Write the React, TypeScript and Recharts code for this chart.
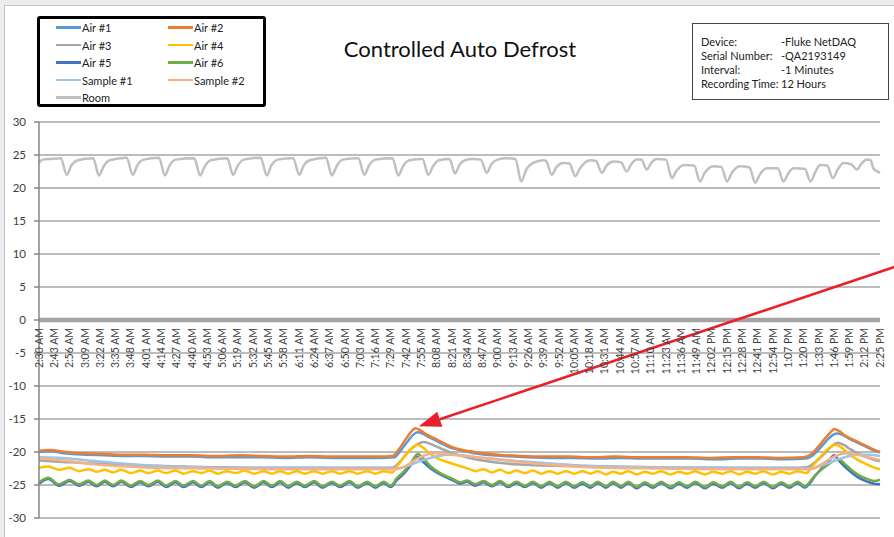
import React from 'react';
import { LineChart, Line, XAxis, YAxis, CartesianGrid, ReferenceLine } from 'recharts';

// category labels, one every 13 minutes from 2:30 AM
const tickLabels = [
  '2:30 AM', '2:43 AM', '2:56 AM', '3:09 AM', '3:22 AM', '3:35 AM', '3:48 AM', '4:01 AM',
  '4:14 AM', '4:27 AM', '4:40 AM', '4:53 AM', '5:06 AM', '5:19 AM', '5:32 AM', '5:45 AM',
  '5:58 AM', '6:11 AM', '6:24 AM', '6:37 AM', '6:50 AM', '7:03 AM', '7:16 AM', '7:29 AM',
  '7:42 AM', '7:55 AM', '8:08 AM', '8:21 AM', '8:34 AM', '8:47 AM', '9:00 AM', '9:13 AM',
  '9:26 AM', '9:39 AM', '9:52 AM', '10:05 AM', '10:18 AM', '10:31 AM', '10:44 AM', '10:57 AM',
  '11:10 AM', '11:23 AM', '11:36 AM', '11:49 AM', '12:02 PM', '12:15 PM', '12:28 PM', '12:41 PM',
  '12:54 PM', '1:07 PM', '1:20 PM', '1:33 PM', '1:46 PM', '1:59 PM', '2:12 PM', '2:25 PM',
];
const STEP = 13;
const xTicks = tickLabels.map((_, i) => i * STEP);
const LAST = xTicks[xTicks.length - 1];
const yTicks = [-30, -25, -20, -15, -10, -5, 0, 5, 10, 15, 20, 25, 30];

// [minutes after 2:30 AM, temperature]
const air1: [number, number][] = [
  [0, -20.0], [10, -19.9], [18, -20.1], [28, -20.3], [40, -20.4], [55, -20.5], [70, -20.6], [90, -20.6],
  [110, -20.7], [130, -20.7], [150, -20.8], [170, -20.8], [190, -20.8], [210, -20.9], [230, -20.8], [250, -20.9],
  [270, -20.9], [290, -20.9], [302, -20.8], [307, -19.9], [313, -18.5], [318, -17.4], [322, -17.0], [326, -17.2],
  [332, -17.8], [340, -18.5], [348, -19.2], [355, -19.6], [362, -19.9], [370, -20.2], [380, -20.4], [395, -20.6],
  [415, -20.8], [435, -20.9], [455, -20.9], [475, -21.0], [495, -20.9], [515, -21.0], [535, -21.0], [555, -21.0],
  [575, -21.1], [595, -21.0], [615, -21.0], [635, -21.1], [652, -21.0], [657, -20.6], [664, -19.4], [670, -18.2],
  [675, -17.4], [679, -17.2], [683, -17.4], [689, -18.0], [696, -18.6], [703, -19.2], [709, -19.7], [715, -20.1],
];
const air2: [number, number][] = [
  [0, -19.8], [10, -19.7], [18, -19.9], [28, -20.1], [40, -20.2], [55, -20.3], [70, -20.4], [90, -20.4],
  [110, -20.5], [130, -20.5], [150, -20.6], [170, -20.5], [190, -20.6], [210, -20.7], [230, -20.6], [250, -20.7],
  [270, -20.7], [290, -20.7], [301, -20.6], [306, -19.6], [312, -18.0], [317, -16.8], [320, -16.4], [324, -16.7],
  [330, -17.4], [338, -18.1], [346, -18.8], [352, -19.3], [360, -19.7], [367, -19.9], [378, -20.2], [390, -20.4],
  [410, -20.6], [430, -20.7], [450, -20.7], [470, -20.8], [490, -20.7], [510, -20.8], [530, -20.8], [550, -20.8],
  [570, -20.9], [590, -20.8], [610, -20.8], [630, -20.9], [650, -20.8], [655, -20.5], [662, -19.3], [668, -18.0],
  [673, -17.0], [676, -16.5], [680, -16.8], [686, -17.6], [693, -18.2], [700, -18.8], [707, -19.4], [712, -19.8],
  [715, -20.0],
];
const air3: [number, number][] = [
  [0, -21.3], [20, -21.5], [40, -21.7], [60, -21.8], [80, -22.0], [100, -22.1], [120, -22.2], [150, -22.3],
  [200, -22.4], [250, -22.4], [300, -22.4], [304, -22.0], [310, -20.8], [316, -19.6], [322, -18.8], [327, -18.5],
  [333, -18.8], [341, -19.4], [352, -20.2], [366, -20.9], [381, -21.4], [395, -21.7], [409, -21.9], [440, -22.1],
  [483, -22.2], [520, -22.3], [560, -22.4], [600, -22.4], [640, -22.4], [653, -22.3], [660, -21.5], [667, -20.4],
  [673, -19.3], [679, -18.6], [684, -18.9], [690, -19.6], [696, -20.2], [704, -20.8], [710, -21.2], [715, -21.4],
];
const air4: [number, number][] = [
  [0, -22.4], [8, -22.2], [17, -22.7], [26, -22.4], [34, -22.9], [42, -22.6], [49, -23.0], [56, -22.7],
  [63, -23.1], [70, -22.7], [78, -23.2], [86, -22.8], [93, -23.2], [101, -22.8], [108, -23.2], [116, -22.8],
  [123, -23.3], [131, -22.9], [138, -23.2], [145, -22.8], [152, -23.3], [160, -22.9], [167, -23.2], [175, -22.8],
  [183, -23.3], [191, -22.9], [198, -23.3], [205, -22.9], [212, -23.3], [219, -22.9], [226, -23.3], [234, -22.9],
  [241, -23.3], [249, -22.9], [256, -23.3], [264, -22.9], [271, -23.3], [279, -22.9], [286, -23.3], [293, -22.9],
  [300, -23.1], [305, -22.0], [311, -20.6], [317, -19.4], [322, -18.9], [327, -19.4], [332, -20.2], [338, -20.9],
  [345, -21.4], [352, -21.8], [359, -22.2], [366, -22.6], [371, -22.9], [378, -22.6], [385, -23.1], [392, -22.7],
  [399, -23.2], [406, -22.8], [413, -23.2], [420, -22.8], [427, -23.3], [434, -22.9], [441, -23.3], [448, -22.9],
  [455, -23.3], [462, -22.9], [469, -23.3], [475, -22.9], [482, -23.4], [488, -23.0], [495, -23.3], [501, -22.9],
  [508, -23.4], [515, -23.0], [522, -23.3], [529, -22.9], [537, -23.4], [544, -23.0], [551, -23.3], [558, -22.9],
  [566, -23.4], [573, -23.0], [581, -23.3], [588, -22.9], [595, -23.4], [602, -23.0], [609, -23.3], [616, -22.9],
  [624, -23.4], [631, -23.0], [638, -23.3], [645, -22.9], [652, -23.2], [657, -22.3], [663, -21.0], [669, -19.8],
  [674, -19.1], [678, -18.9], [682, -19.3], [688, -20.2], [696, -21.2], [703, -21.8], [709, -22.3], [715, -22.6],
];
const air5: [number, number][] = [
  [0, -24.8], [8, -24.1], [17, -25.1], [26, -24.4], [34, -25.1], [42, -24.5], [49, -25.2], [56, -24.5],
  [63, -25.2], [70, -24.5], [78, -25.3], [86, -24.6], [93, -25.2], [101, -24.5], [108, -25.3], [116, -24.6],
  [123, -25.3], [131, -24.6], [138, -25.3], [145, -24.6], [152, -25.4], [160, -24.7], [167, -25.3], [175, -24.6],
  [183, -25.4], [191, -24.6], [198, -25.3], [205, -24.6], [212, -25.4], [219, -24.7], [226, -25.3], [234, -24.6],
  [241, -25.4], [249, -24.7], [256, -25.3], [264, -24.6], [271, -25.4], [279, -24.7], [286, -25.4], [293, -24.7],
  [299, -25.3], [304, -24.3], [310, -23.3], [316, -22.0], [321, -20.7], [326, -21.4], [333, -22.5], [341, -23.4],
  [352, -24.3], [358, -24.8], [364, -24.5], [371, -25.1], [378, -24.6], [385, -25.2], [392, -24.6], [399, -25.3],
  [406, -24.7], [413, -25.3], [420, -24.7], [427, -25.4], [434, -24.7], [441, -25.4], [448, -24.7], [455, -25.4],
  [462, -24.8], [469, -25.4], [475, -24.7], [482, -25.4], [488, -24.7], [495, -25.4], [501, -24.7], [508, -25.5],
  [515, -24.8], [522, -25.4], [529, -24.7], [537, -25.5], [544, -24.8], [551, -25.4], [558, -24.7], [566, -25.5],
  [573, -24.8], [581, -25.4], [588, -24.7], [595, -25.5], [602, -24.8], [609, -25.4], [616, -24.7], [624, -25.5],
  [631, -24.8], [638, -25.4], [645, -24.7], [651, -25.4], [655, -24.8], [660, -23.6], [666, -22.4], [672, -21.2],
  [676, -20.5], [680, -21.3], [685, -22.2], [690, -23.0], [696, -23.8], [703, -24.4], [710, -24.8], [715, -24.9],
];
const air6: [number, number][] = [
  [0, -24.6], [8, -23.9], [17, -24.9], [26, -24.2], [34, -24.9], [42, -24.3], [49, -25.0], [56, -24.3],
  [63, -25.0], [70, -24.3], [78, -25.1], [86, -24.4], [93, -25.0], [101, -24.3], [108, -25.1], [116, -24.4],
  [123, -25.1], [131, -24.4], [138, -25.1], [145, -24.4], [152, -25.2], [160, -24.5], [167, -25.1], [175, -24.4],
  [183, -25.2], [191, -24.4], [198, -25.1], [205, -24.4], [212, -25.2], [219, -24.5], [226, -25.1], [234, -24.4],
  [241, -25.2], [249, -24.5], [256, -25.1], [264, -24.4], [271, -25.2], [279, -24.5], [286, -25.2], [293, -24.5],
  [299, -25.1], [304, -24.0], [310, -23.0], [316, -21.7], [322, -20.3], [327, -21.0], [333, -22.2], [341, -23.2],
  [352, -24.1], [358, -24.6], [364, -24.3], [371, -24.9], [378, -24.4], [385, -25.0], [392, -24.4], [399, -25.1],
  [406, -24.5], [413, -25.1], [420, -24.5], [427, -25.2], [434, -24.5], [441, -25.2], [448, -24.5], [455, -25.2],
  [462, -24.6], [469, -25.2], [475, -24.5], [482, -25.2], [488, -24.5], [495, -25.2], [501, -24.5], [508, -25.3],
  [515, -24.6], [522, -25.2], [529, -24.5], [537, -25.3], [544, -24.6], [551, -25.2], [558, -24.5], [566, -25.3],
  [573, -24.6], [581, -25.2], [588, -24.5], [595, -25.3], [602, -24.6], [609, -25.2], [616, -24.5], [624, -25.3],
  [631, -24.6], [638, -25.2], [645, -24.5], [651, -25.2], [655, -24.6], [660, -23.5], [665, -22.7], [671, -21.9],
  [676, -21.3], [680, -21.1], [685, -21.8], [690, -22.6], [696, -23.4], [703, -24.0], [710, -24.4], [715, -24.2],
];
const sample1: [number, number][] = [
  [0, -20.8], [20, -20.9], [49, -21.4], [75, -21.8], [97, -22.1], [130, -22.3], [180, -22.4], [236, -22.4],
  [280, -22.5], [303, -22.5], [315, -22.0], [325, -21.3], [335, -20.8], [347, -20.4], [360, -20.5], [381, -21.0],
  [409, -21.4], [440, -21.8], [483, -22.2], [530, -22.3], [580, -22.4], [630, -22.5], [655, -22.5], [665, -22.1],
  [675, -21.4], [685, -20.8], [695, -20.4], [705, -20.4], [715, -20.6],
];
const sample2: [number, number][] = [
  [0, -21.0], [20, -21.3], [49, -21.9], [75, -22.2], [97, -22.4], [140, -22.5], [200, -22.6], [260, -22.6],
  [303, -22.6], [312, -22.1], [320, -21.2], [328, -20.5], [336, -20.2], [346, -20.3], [366, -20.7], [390, -21.1],
  [409, -21.5], [440, -22.0], [483, -22.4], [530, -22.5], [580, -22.6], [630, -22.6], [656, -22.6], [664, -22.0],
  [672, -21.1], [679, -20.5], [686, -20.2], [695, -20.4], [705, -20.8], [715, -21.2],
];
const room: [number, number][] = [
  [0, 23.8], [3, 24.3], [10, 24.4], [18.5, 24.5], [23.6, 22.0], [27.5, 23.4], [33, 24.2], [46, 24.5],
  [51, 21.9], [55, 23.3], [60, 24.2], [74.5, 24.6], [79.7, 22.0], [83.5, 23.4], [89, 24.3], [102, 24.6],
  [107, 21.9], [111, 23.4], [116, 24.3], [132, 24.5], [137, 21.9], [141, 23.3], [146, 24.2], [160, 24.5],
  [165, 22.0], [169, 23.4], [174, 24.3], [188.5, 24.6], [193.6, 21.9], [197.5, 23.4], [203, 24.3], [216, 24.5],
  [221.3, 22.0], [225, 23.4], [230, 24.2], [244, 24.6], [249, 21.9], [253, 23.3], [258, 24.3], [271.5, 24.5],
  [276.6, 22.0], [280.5, 23.4], [286, 24.3], [300.5, 24.5], [305.5, 21.9], [309.5, 23.3], [315, 24.2], [326, 24.4],
  [331, 22.0], [335, 23.3], [340, 24.2], [349, 24.4], [353.7, 22.2], [357.5, 23.5], [362, 24.2], [368.5, 24.4],
  [375.5, 24.3], [380.7, 22.3], [384.5, 23.6], [390, 24.3], [397.7, 24.5], [405, 24.4], [410, 21.0], [414, 22.7],
  [420, 23.8], [428.6, 24.2], [431, 24.1], [436, 22.0], [440, 23.2], [445.6, 23.8], [451, 23.7], [456, 21.8],
  [460, 23.0], [468.5, 24.2], [473.5, 24.1], [478.5, 22.3], [482.5, 23.4], [488.4, 24.0], [494.7, 23.9], [499.7, 22.5],
  [503.5, 23.6], [508.2, 24.3], [512, 24.3], [516.8, 22.8], [520.5, 23.8], [525.3, 24.4], [533, 24.3], [538, 21.5],
  [542, 22.6], [547.9, 23.5], [557, 23.4], [562, 21.0], [566, 22.3], [573.4, 23.3], [580, 23.2], [585, 21.0],
  [589, 22.3], [596, 23.3], [604, 23.1], [609, 20.8], [613, 22.1], [618.8, 23.0], [628, 23.0], [633, 21.0],
  [637, 22.2], [641.4, 23.0], [651, 22.9], [656, 21.0], [660, 22.4], [664, 23.5], [670, 23.4], [675, 21.5],
  [679, 22.8], [683.9, 23.8], [690.3, 23.6], [695.3, 22.8], [699, 23.6], [703.8, 24.3], [707, 24.2], [709.5, 22.9],
  [712, 22.6], [715, 22.3],
];

const series = [
  { name: 'Air #1', color: '#5B9BD5', values: air1 },
  { name: 'Air #2', color: '#ED7D31', values: air2 },
  { name: 'Air #3', color: '#A5A5A5', values: air3 },
  { name: 'Air #4', color: '#FFC000', values: air4 },
  { name: 'Air #5', color: '#4472C4', values: air5 },
  { name: 'Air #6', color: '#70AD47', values: air6 },
  { name: 'Sample #1', color: '#9DC3E6', values: sample1 },
  { name: 'Sample #2', color: '#F4B183', values: sample2 },
  { name: 'Room', color: '#C0C0C0', values: room },
];

const infoRows = [
  ['Device:', '-Fluke NetDAQ'],
  ['Serial Number:', '-QA2193149'],
  ['Interval:', '-1 Minutes'],
  ['Recording Time:', '12 Hours'],
];

const W = 894;
const H = 537;
const M = { top: 122, right: 14, bottom: 18, left: 9 };
const X_AXIS_H = 1;
const PLOT_H = H - M.top - M.bottom - X_AXIS_H;
const Y_MIN = -30;
const Y_MAX = 30;
// distance from the plot bottom up to the zero line, where the category labels hang
const ZERO_SHIFT = (PLOT_H * (0 - Y_MIN)) / (Y_MAX - Y_MIN);
const FONT = 'Lato, "Open Sans", sans-serif';

const toPts = (arr: [number, number][]) => arr.map(([t, v]) => ({ t, v }));

const XTick = (props: any) => {
  const { x, y, payload } = props;
  const label = tickLabels[Math.round(payload.value / STEP)];
  return (
    <text
      transform={`translate(${x},${y - ZERO_SHIFT + 8}) rotate(-90)`}
      textAnchor="end"
      dy="0.35em"
      fontSize={10.5}
      fill="#404040"
      fontFamily={FONT}
    >
      {label}
    </text>
  );
};

const Arrow = (props: any) => {
  const { x1, y1, x2, y2 } = props;
  const a = Math.atan2(y2 - y1, x2 - x1);
  const len = 22;
  const half = 8;
  const bx = x2 - len * Math.cos(a);
  const by = y2 - len * Math.sin(a);
  const px = -Math.sin(a) * half;
  const py = Math.cos(a) * half;
  return (
    <g>
      <line x1={x1} y1={y1} x2={bx} y2={by} stroke="#E8202A" strokeWidth={2.5} />
      <polygon points={`${x2},${y2} ${bx + px},${by + py} ${bx - px},${by - py}`} fill="#E8202A" />
    </g>
  );
};

function LegendBox() {
  return (
    <div
      style={{
        position: 'absolute', left: 37, top: 16, width: 223, height: 85,
        border: '3px solid #000', borderRadius: 3, background: '#fff', fontFamily: FONT, fontSize: 11, color: '#222',
      }}
    >
      {series.map((s, i) => {
        const col = i % 2;
        const row = Math.floor(i / 2);
        const left = col === 0 ? 16 : 128;
        const top = 8.7 + row * 17.5;
        return (
          <div key={s.name} style={{ position: 'absolute', left, top: top - 7, height: 14, display: 'flex', alignItems: 'center', whiteSpace: 'nowrap' }}>
            <span style={{ display: 'inline-block', width: 25, height: 2.5, background: s.color }} />
            <span style={{ marginLeft: 1 }}>{s.name}</span>
          </div>
        );
      })}
    </div>
  );
}

function InfoBox() {
  return (
    <div
      style={{
        position: 'absolute', left: 692, top: 23, width: 195, height: 75,
        border: '1px solid #444', background: '#fff', fontFamily: FONT, fontSize: 11, color: '#222',
      }}
    >
      {infoRows.map(([k, v], i) => (
        <div key={k} style={{ position: 'absolute', top: 11 + i * 13.9, left: 8, height: 14, lineHeight: '14px', whiteSpace: 'nowrap' }}>
          <span>{k}</span>
          <span style={{ position: 'absolute', left: 80 }}>{v}</span>
        </div>
      ))}
    </div>
  );
}

export default function App() {
  return (
    <div style={{ position: 'absolute', left: 0, top: 0, width: W, height: H, overflow: 'hidden', background: '#ececec' }}>
      <div style={{ position: 'absolute', left: 4, top: 5, width: W, height: H, background: '#fff', borderLeft: '1px solid #c4c4c4', borderTop: '1px solid #c4c4c4' }} />
      <div style={{ position: 'absolute', left: 0, top: 0 }}>
        <LineChart width={W} height={H} margin={M}>
          <CartesianGrid vertical={false} stroke="#a6a6a6" strokeWidth={1.3} />
          <XAxis
            type="number"
            dataKey="t"
            domain={[0, LAST]}
            ticks={xTicks}
            interval={0}
            height={X_AXIS_H}
            axisLine={false}
            tickLine={false}
            tickSize={0}
            tickMargin={0}
            tick={XTick}
          />
          <YAxis
            type="number"
            domain={[Y_MIN, Y_MAX]}
            ticks={yTicks}
            interval={0}
            width={30}
            stroke="#868686"
            strokeWidth={1.5}
            tickSize={5}
            tickMargin={8}
            tick={{ fontSize: 11.5, fill: '#404040', fontFamily: FONT }}
          />
          <ReferenceLine y={0} stroke="#a3a3a3" strokeWidth={4.5} />
          {series.map((s) => (
            <Line
              key={s.name}
              name={s.name}
              data={toPts(s.values)}
              dataKey="v"
              type="monotone"
              stroke={s.color}
              strokeWidth={2.5}
              dot={false}
              activeDot={false}
              isAnimationActive={false}
            />
          ))}
          <ReferenceLine
            segment={[{ x: 735, y: 8.5 }, { x: 323, y: -16.1 }]}
            ifOverflow="visible"
            shape={Arrow}
          />
        </LineChart>
      </div>
      <div style={{ position: 'absolute', left: 300, width: 320, top: 35, textAlign: 'center', fontFamily: FONT, fontSize: 22, lineHeight: '28px', color: '#111' }}>
        Controlled Auto Defrost
      </div>
      <LegendBox />
      <InfoBox />
    </div>
  );
}
